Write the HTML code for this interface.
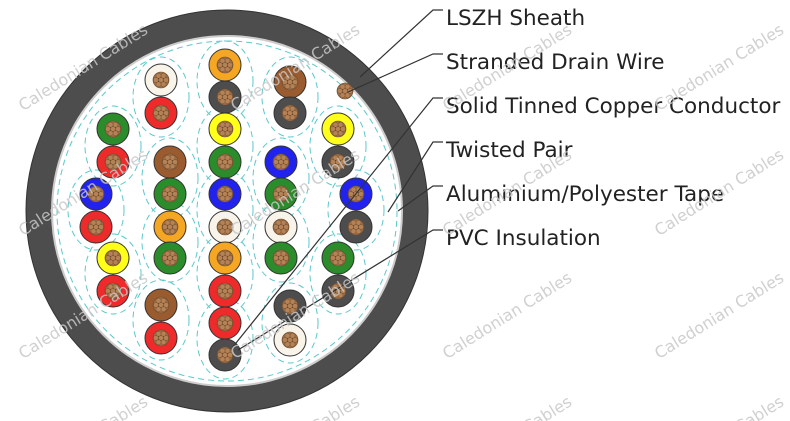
<!DOCTYPE html>
<html><head><meta charset="utf-8"><style>
html,body{margin:0;padding:0;background:#fff;width:790px;height:421px;overflow:hidden;}
svg{display:block;}
text{font-family:"DejaVu Sans","Liberation Sans",sans-serif;}
</style></head><body>
<svg width="790" height="421" viewBox="0 0 790 421" xmlns="http://www.w3.org/2000/svg">
<defs>
<clipPath id="fr"><rect x="0" y="0" width="790" height="421"/></clipPath>
<g id="cu">
<circle r="8" fill="#a0724a" stroke="#6b4a2e" stroke-width="0.6"/>
<circle r="2.6" fill="#b58256" stroke="#6b4a2e" stroke-width="0.5"/>
<circle cx="5" cy="0" r="2.6" fill="#b58256" stroke="#6b4a2e" stroke-width="0.5"/>
<circle cx="-5" cy="0" r="2.6" fill="#b58256" stroke="#6b4a2e" stroke-width="0.5"/>
<circle cx="2.5" cy="4.3" r="2.6" fill="#b58256" stroke="#6b4a2e" stroke-width="0.5"/>
<circle cx="-2.5" cy="4.3" r="2.6" fill="#b58256" stroke="#6b4a2e" stroke-width="0.5"/>
<circle cx="2.5" cy="-4.3" r="2.6" fill="#b58256" stroke="#6b4a2e" stroke-width="0.5"/>
<circle cx="-2.5" cy="-4.3" r="2.6" fill="#b58256" stroke="#6b4a2e" stroke-width="0.5"/>
</g>
</defs>
<circle cx="227" cy="211" r="201" fill="#4d4d4d" stroke="#333" stroke-width="1"/>
<circle cx="227" cy="211" r="175" fill="#fff" stroke="#ccc" stroke-width="2"/>
<circle cx="227" cy="211" r="170" fill="none" stroke="#5cc8cc" stroke-width="1" stroke-dasharray="6,4"/>
<g fill="none" stroke="#5cc8cc" stroke-width="1" stroke-dasharray="6,4">
<ellipse cx="225" cy="81" rx="28" ry="40"/><ellipse cx="225" cy="146" rx="28" ry="40"/><ellipse cx="225" cy="210" rx="28" ry="40"/><ellipse cx="225" cy="274" rx="28" ry="40"/><ellipse cx="225" cy="339" rx="28" ry="40"/>
<ellipse cx="161" cy="97" rx="28" ry="40"/><ellipse cx="290" cy="97" rx="28" ry="40"/>
<ellipse cx="113" cy="146" rx="28" ry="40"/><ellipse cx="338" cy="146" rx="28" ry="40"/>
<ellipse cx="170" cy="178" rx="28" ry="40"/><ellipse cx="281" cy="178" rx="28" ry="40"/>
<ellipse cx="96" cy="210" rx="28" ry="40"/><ellipse cx="356" cy="210" rx="28" ry="40"/>
<ellipse cx="170" cy="242" rx="28" ry="40"/><ellipse cx="281" cy="242" rx="28" ry="40"/>
<ellipse cx="113" cy="274" rx="28" ry="40"/><ellipse cx="338" cy="274" rx="28" ry="40"/>
<ellipse cx="161" cy="320" rx="28" ry="40"/><ellipse cx="290" cy="323" rx="28" ry="40"/>
</g>
<g stroke="#333" stroke-width="1">
<circle cx="225" cy="65" r="16" fill="#f5a623"/><circle cx="225" cy="97" r="16" fill="#4d4d4d"/>
<circle cx="225" cy="129" r="16" fill="#ffff1a"/><circle cx="225" cy="162" r="16" fill="#2a8c2a"/>
<circle cx="225" cy="194" r="16" fill="#2222ee"/><circle cx="225" cy="227" r="16" fill="#f8f4ea"/>
<circle cx="225" cy="258" r="16" fill="#f5a623"/><circle cx="225" cy="291" r="16" fill="#ee2a2a"/>
<circle cx="225" cy="323" r="16" fill="#ee2a2a"/><circle cx="225" cy="355" r="16" fill="#4d4d4d"/>
<circle cx="113" cy="129" r="16" fill="#2a8c2a"/><circle cx="113" cy="162" r="16" fill="#ee2a2a"/>
<circle cx="113" cy="258" r="16" fill="#ffff1a"/><circle cx="113" cy="291" r="16" fill="#ee2a2a"/>
<circle cx="96" cy="194" r="16" fill="#2222ee"/><circle cx="96" cy="227" r="16" fill="#ee2a2a"/>
<circle cx="161" cy="80" r="16" fill="#f8f4ea"/><circle cx="161" cy="113" r="16" fill="#ee2a2a"/>
<circle cx="161" cy="305" r="16" fill="#9a5b2e"/><circle cx="161" cy="338" r="16" fill="#ee2a2a"/>
<circle cx="170" cy="162" r="16" fill="#9a5b2e"/><circle cx="170" cy="194" r="16" fill="#2a8c2a"/>
<circle cx="170" cy="227" r="16" fill="#f5a623"/><circle cx="170" cy="258" r="16" fill="#2a8c2a"/>
<circle cx="290" cy="82" r="16" fill="#9a5b2e"/><circle cx="290" cy="113" r="16" fill="#4d4d4d"/>
<circle cx="290" cy="306" r="16" fill="#4d4d4d"/><circle cx="290" cy="340" r="16" fill="#f8f4ea"/>
<circle cx="281" cy="162" r="16" fill="#2222ee"/><circle cx="281" cy="194" r="16" fill="#2a8c2a"/>
<circle cx="281" cy="227" r="16" fill="#f8f4ea"/><circle cx="281" cy="258" r="16" fill="#2a8c2a"/>
<circle cx="338" cy="129" r="16" fill="#ffff1a"/><circle cx="338" cy="162" r="16" fill="#4d4d4d"/>
<circle cx="338" cy="258" r="16" fill="#2a8c2a"/><circle cx="338" cy="291" r="16" fill="#4d4d4d"/>
<circle cx="356" cy="194" r="16" fill="#2222ee"/><circle cx="356" cy="227" r="16" fill="#4d4d4d"/>
</g>
<use href="#cu" x="225" y="65"/><use href="#cu" x="225" y="97"/><use href="#cu" x="225" y="129"/><use href="#cu" x="225" y="162"/><use href="#cu" x="225" y="194"/><use href="#cu" x="225" y="227"/><use href="#cu" x="225" y="258"/><use href="#cu" x="225" y="291"/><use href="#cu" x="225" y="323"/><use href="#cu" x="225" y="355"/>
<use href="#cu" x="113" y="129"/><use href="#cu" x="113" y="162"/><use href="#cu" x="113" y="258"/><use href="#cu" x="113" y="291"/>
<use href="#cu" x="96" y="194"/><use href="#cu" x="96" y="227"/>
<use href="#cu" x="161" y="80"/><use href="#cu" x="161" y="113"/><use href="#cu" x="161" y="305"/><use href="#cu" x="161" y="338"/>
<use href="#cu" x="170" y="162"/><use href="#cu" x="170" y="194"/><use href="#cu" x="170" y="227"/><use href="#cu" x="170" y="258"/>
<use href="#cu" x="290" y="82"/><use href="#cu" x="290" y="113"/><use href="#cu" x="290" y="306"/><use href="#cu" x="290" y="340"/>
<use href="#cu" x="281" y="162"/><use href="#cu" x="281" y="194"/><use href="#cu" x="281" y="227"/><use href="#cu" x="281" y="258"/>
<use href="#cu" x="338" y="129"/><use href="#cu" x="338" y="162"/><use href="#cu" x="338" y="258"/><use href="#cu" x="338" y="291"/>
<use href="#cu" x="356" y="194"/><use href="#cu" x="356" y="227"/>
<use href="#cu" x="345" y="91"/>
<g fill="none" stroke="#333" stroke-width="1.2">
<polyline points="443,10 433,10 360,77"/>
<polyline points="443,54 433,54 348,92"/>
<polyline points="443,98 433,98 232,348"/>
<polyline points="443,142 433,142 388,212"/>
<polyline points="443,186 433,186 398,211"/>
<polyline points="443,230 433,230 238,350"/>
</g>
<g font-size="21.5" fill="#222">
<text x="446" y="25">LSZH Sheath</text>
<text x="446" y="69">Stranded Drain Wire</text>
<text x="446" y="113">Solid Tinned Copper Conductor</text>
<text x="446" y="157">Twisted Pair</text>
<text x="446" y="201">Aluminium/Polyester Tape</text>
<text x="446" y="245">PVC Insulation</text>
</g>
<g font-size="16" fill="#c8c8c8" fill-opacity="0.85" text-anchor="middle" clip-path="url(#fr)">
<text transform="translate(86,72) rotate(-32)">Caledonian Cables</text>
<text transform="translate(298,72) rotate(-32)">Caledonian Cables</text>
<text transform="translate(510,72) rotate(-32)">Caledonian Cables</text>
<text transform="translate(722,72) rotate(-32)">Caledonian Cables</text>
<text transform="translate(86,197) rotate(-32)">Caledonian Cables</text>
<text transform="translate(298,197) rotate(-32)">Caledonian Cables</text>
<text transform="translate(510,197) rotate(-32)">Caledonian Cables</text>
<text transform="translate(722,197) rotate(-32)">Caledonian Cables</text>
<text transform="translate(86,320) rotate(-32)">Caledonian Cables</text>
<text transform="translate(298,320) rotate(-32)">Caledonian Cables</text>
<text transform="translate(510,320) rotate(-32)">Caledonian Cables</text>
<text transform="translate(722,320) rotate(-32)">Caledonian Cables</text>
<text transform="translate(86,444) rotate(-32)">Caledonian Cables</text>
<text transform="translate(298,444) rotate(-32)">Caledonian Cables</text>
<text transform="translate(510,444) rotate(-32)">Caledonian Cables</text>
<text transform="translate(722,444) rotate(-32)">Caledonian Cables</text>
</g>
</svg>
</body></html>
